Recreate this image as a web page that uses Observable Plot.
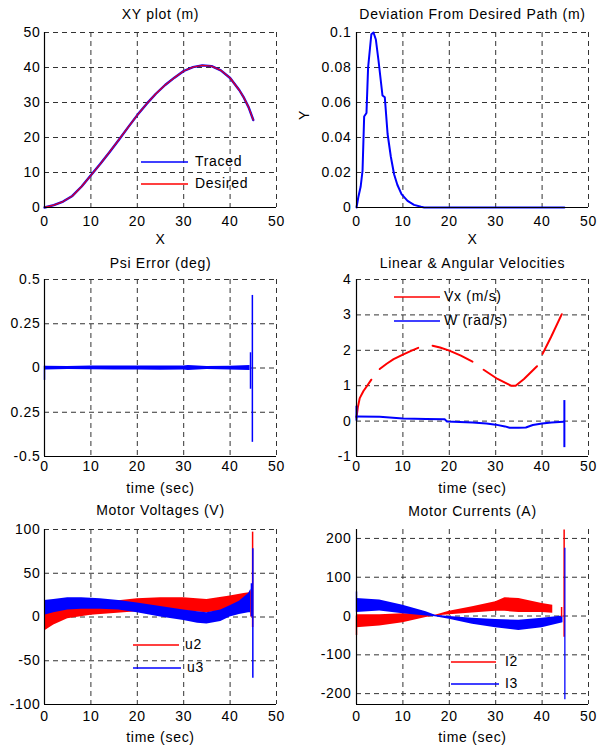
<!DOCTYPE html>
<html><head><meta charset="utf-8">
<script src="https://cdn.jsdelivr.net/npm/d3@7"></script>
<script src="https://cdn.jsdelivr.net/npm/@observablehq/plot@0.6"></script>
<style>
html,body{margin:0;padding:0;background:#fff;overflow:hidden}
#fig{position:relative;width:597px;height:746px;background:#fff;font-family:"Liberation Sans",Arial,sans-serif;color:#000}
#fig svg{position:absolute;overflow:visible}
#fig svg text{letter-spacing:0.7px}
.leg{position:absolute;font-size:14px;letter-spacing:0.7px;line-height:14px;white-space:nowrap}
.legline{position:absolute;height:0}
</style></head><body><div id="fig"></div>
<script>
// ---------- DATA ----------
// Panel 1: XY plot (m)
const tracedX = [0,2,4,6,8,10,12,14,16,18,20,22,24,26,28,30,32,34,36,38,40,42,43,44,45];
const tracedY = [0,0.7,1.7,3.3,6,9.2,12.4,15.8,19.3,22.9,26.4,29.6,32.5,35,37.1,39,40.1,40.6,40.4,39.2,37,33.5,31.3,28.6,25];
const desiredX = [0,2,4,6,8,10,12,14,16,18,20,22,24,26,28,30,32,34,36,38,40,42,43,44,45];
const desiredY = [0,0.7,1.7,3.3,6,9.2,12.4,15.8,19.3,22.9,26.4,29.6,32.5,35,37.1,39,40.1,40.6,40.4,39.2,37,33.5,31.3,28.6,25];
// Panel 2: Deviation from desired path (m)
const devX = [0,0.4,0.9,1.3,1.65,2.15,2.5,3.2,3.66,4.17,4.74,5.6,6.1,6.7,7.4,8.1,8.8,9.7,11,12.4,13.9,14.6,20,30,44.8];
const devY = [0,0.006,0.012,0.021,0.052,0.054,0.08,0.099,0.1,0.096,0.084,0.064,0.063,0.042,0.029,0.019,0.013,0.0076,0.0038,0.0015,0.0004,0,0,0,0];
// Panel 3: Psi error (deg) - band envelope and spikes
const psiT  = [0,0.3,5,10,15,20,25,30,31,35,40,44.3];
const psiHi = [0.012,0.01,0.008,0.011,0.012,0.012,0.012,0.011,0.014,0.008,0.01,0.014];
const psiLo = [-0.014,-0.012,-0.009,-0.01,-0.012,-0.012,-0.013,-0.011,-0.014,-0.009,-0.012,-0.014];
const psiSpikeT  = [0,44.4,44.8];
const psiSpikeLo = [-0.07,-0.12,-0.42];
const psiSpikeHi = [0.01,0.086,0.41];
// Panel 4: Linear & angular velocities
const vxT   = [0,0.3,0.7,1.5,2.3,3.2, 5,6.5,8,10,12,13.3, 16.4,18,20,22.5,25, 27.4,30.4,33.3,34.3,36.1,38.9, 40.1,41.9,44.25];
const vxV   = [0.1,0.4,0.65,0.85,1.0,1.17, 1.47,1.62,1.75,1.88,2.0,2.07, 2.13,2.08,1.99,1.85,1.68, 1.45,1.19,1.0,1.0,1.19,1.55, 1.9,2.37,3.02];
const vxSeg = [1,1,1,1,1,1, 2,2,2,2,2,2, 3,3,3,3,3, 4,4,4,4,4,4, 5,5,5];
const wT = [0,5,10,15,19,19.5,25,28,30,32,33,35,36.5,38,40,42,44.6];
const wV = [0.13,0.12,0.075,0.057,0.05,-0.01,-0.04,-0.07,-0.1,-0.15,-0.19,-0.19,-0.18,-0.11,-0.07,-0.04,-0.02];
const wSpikeT  = [0,44.8];
const wSpikeLo = [0,-0.75];
const wSpikeHi = [0.42,0.58];
// Panel 5: Motor voltages (V)
const u2T  = [0,2,5,10,15,20,25,30,35,40,43,44.5];
const u2Hi = [12,12,12,14,18,21,22,22,20,24,27,28];
const u2Lo = [-16,-9,-2,2,4,6,7,7,5,8,10,8];
const u3T  = [0,2,5,8,12,16,20,25,30,33,35,38,40,42,44,44.5];
const u3Hi = [19,20,22,22,21,19,16,12,8,6,5,8,13,18,27,32];
const u3Lo = [2,5,8,9,9,8,5,0,-4,-7,-8,-5,0,3,5,5];
const u2SpikeT = [44.5,44.85], u2SpikeLo = [0,-12], u2SpikeHi = [30,97];
const u3SpikeT = [44.6,44.9],  u3SpikeLo = [0,-70], u3SpikeHi = [38,78];
// Panel 6: Motor currents (A)
const i2T  = [0,5,10,15,17,20,25,30,32,35,40,42.3];
const i2Hi = [3,3,6,5,2,12,24,37,47,45,32,28];
const i2Lo = [-30,-26,-17,-4,0,3,8,12,12,9,9,7];
const i3T  = [0,5,10,15,17,20,25,30,35,40,44.5];
const i3Hi = [45,41,28,11,2,-1,-6,-9,-11,-6,0];
const i3Lo = [9,13,6,0,-2,-8,-21,-30,-37,-30,-17];
const i2SpikeT = [0,44.2,44.75], i2SpikeLo = [-50,-3,-55], i2SpikeHi = [0,22,222];
const i3SpikeT = [0,44.9], i3SpikeLo = [10,-216], i3SpikeHi = [62,175];
// Ticks
const ticks50 = [0,10,20,30,40,50];
const xyTicksY = [0,10,20,30,40,50];
const devTicksY = [0,0.02,0.04,0.06,0.08,0.1];
const devTickLabels = ["0","0.02","0.04","0.06","0.08","0.1"];
const psiTicksY = [-0.5,-0.25,0,0.25,0.5];
const psiTickLabels = ["-0.5","0.25","0","0.25","0.5"];
const velTicksY = [-1,0,1,2,3,4];
const voltTicksY = [-100,-50,0,50,100];
const currTicksY = [-200,-100,0,100,200];

// ---------- HELPERS ----------
const BLUE = "#0000ff", RED = "#ff0000";
const zip = (t, a, b) => t.map((v, i) => ({t: v, lo: a[i], hi: b[i]}));
const pts = (xs, ys) => xs.map((v, i) => ({x: v, y: ys[i]}));
const fig = document.getElementById("fig");
const ML = 60, MT = 40, MB = 45;

function panel(o) {
  const mr = 9;
  const W = ML + 232 + mr, H = MT + o.h + MB;
  const grid = {stroke: "#333", strokeOpacity: 1, strokeWidth: 1, strokeDasharray: "5,4"};
  const svg = Plot.plot({
    width: W, height: H, marginLeft: ML, marginRight: mr, marginTop: MT, marginBottom: MB,
    style: {fontFamily: '"Liberation Sans", Arial, sans-serif', fontSize: "14px", color: "#000", background: "transparent", overflow: "visible"},
    x: {domain: [0, 50]},
    y: {domain: o.ydom},
    marks: [
      Plot.gridX(ticks50, grid),
      Plot.gridY(o.yticks, grid),
      ...o.marks,
      Plot.ruleX([0], {stroke: "#000", strokeWidth: 1.2}),
      Plot.ruleY([o.ydom[0]], {stroke: "#000", strokeWidth: 1.2}),
      Plot.axisX(ticks50, {tickSize: 0, tickPadding: o.xpad, label: null, fill: "#000"}),
      Plot.axisY(o.yticks, {tickSize: 0, tickPadding: o.ypad, label: null, fill: "#000",
        tickFormat: o.ylabels ? (d => o.ylabels[o.yticks.indexOf(d)]) : (d => String(d))}),
      Plot.text([o.title], {frameAnchor: "top", dy: o.tdy, lineAnchor: "middle", text: d => d, fill: "#000"}),
      Plot.text([o.xlabel], {frameAnchor: "bottom", dy: o.xdy, lineAnchor: "middle", text: d => d, fill: "#000"}),
      ...(o.ylabel ? [Plot.text([o.ylabel], {frameAnchor: "left", dx: o.ydx, rotate: -90, lineAnchor: "middle", text: d => d, fill: "#000"})] : [])
    ]
  });
  svg.style.left = (o.left - ML) + "px";
  svg.style.top = (o.top - MT) + "px";
  fig.appendChild(svg);
}

function legend(x1, x2, y, color, tx, label) {
  const l = document.createElement("div");
  l.className = "legline";
  l.style.cssText = `left:${x1}px;top:${y - 1}px;width:${x2 - x1}px;border-top:2px solid ${color};opacity:0.75`;
  fig.appendChild(l);
  const t = document.createElement("div");
  t.className = "leg";
  t.style.left = tx + "px";
  t.style.top = (y - 8) + "px";
  t.textContent = label;
  fig.appendChild(t);
}

// ---------- PANELS ----------
panel({left: 44, top: 32, h: 175, ydom: [0, 50], yticks: xyTicksY, xpad: 9, ypad: 4, tdy: -18, xdy: 32,
  title: "XY plot (m)", xlabel: "X",
  marks: [
    Plot.line(pts(tracedX, tracedY), {x: "x", y: "y", stroke: BLUE, strokeWidth: 2.4}),
    Plot.line(pts(desiredX, desiredY), {x: "x", y: "y", stroke: RED, strokeWidth: 1.3, strokeOpacity: 0.85})
  ]});

panel({left: 356, top: 32, h: 175, ydom: [0, 0.1], yticks: devTicksY, ylabels: devTickLabels, xpad: 9, ypad: 5, tdy: -18, xdy: 32,
  title: "Deviation From Desired Path (m)", xlabel: "X", ylabel: "Y", ydx: -52,
  marks: [
    Plot.line(pts(devX, devY), {x: "x", y: "y", stroke: BLUE, strokeWidth: 2, curve: "linear"})
  ]});

panel({left: 44, top: 279, h: 177, ydom: [-0.5, 0.5], yticks: psiTicksY, ylabels: psiTickLabels, xpad: 5, ypad: 4, tdy: -16, xdy: 32,
  title: "Psi Error (deg)", xlabel: "time (sec)",
  marks: [
    Plot.areaY(zip(psiT, psiLo, psiHi), {x: "t", y1: "lo", y2: "hi", fill: BLUE}),
    Plot.ruleX(zip(psiSpikeT, psiSpikeLo, psiSpikeHi), {x: "t", y1: "lo", y2: "hi", stroke: BLUE, strokeWidth: 1.5})
  ]});

panel({left: 356, top: 279, h: 177, ydom: [-1, 4], yticks: velTicksY, xpad: 5, ypad: 5, tdy: -16, xdy: 32,
  title: "Linear & Angular Velocities", xlabel: "time (sec)",
  marks: [
    Plot.line(vxT.map((t, i) => ({t, v: vxV[i], s: vxSeg[i]})), {x: "t", y: "v", z: "s", stroke: RED, strokeWidth: 2}),
    Plot.line(pts(wT, wV), {x: "x", y: "y", stroke: BLUE, strokeWidth: 2}),
    Plot.ruleX(zip(wSpikeT, wSpikeLo, wSpikeHi), {x: "t", y1: "lo", y2: "hi", stroke: BLUE, strokeWidth: 2})
  ]});

panel({left: 44, top: 529, h: 175, ydom: [-100, 100], yticks: voltTicksY, xpad: 7, ypad: 4, tdy: -19, xdy: 33,
  title: "Motor Voltages (V)", xlabel: "time (sec)",
  marks: [
    Plot.areaY(zip(u2T, u2Lo, u2Hi), {x: "t", y1: "lo", y2: "hi", fill: RED}),
    Plot.areaY(zip(u3T, u3Lo, u3Hi), {x: "t", y1: "lo", y2: "hi", fill: BLUE}),
    Plot.ruleX(zip(u2SpikeT, u2SpikeLo, u2SpikeHi), {x: "t", y1: "lo", y2: "hi", stroke: RED, strokeWidth: 1.5}),
    Plot.ruleX(zip(u3SpikeT, u3SpikeLo, u3SpikeHi), {x: "t", y1: "lo", y2: "hi", stroke: BLUE, strokeWidth: 1.5})
  ]});

panel({left: 356, top: 529, h: 175, ydom: [-228, 223], yticks: currTicksY, xpad: 7, ypad: 5, tdy: -18, xdy: 33,
  title: "Motor Currents (A)", xlabel: "time (sec)",
  marks: [
    Plot.areaY(zip(i2T, i2Lo, i2Hi), {x: "t", y1: "lo", y2: "hi", fill: RED}),
    Plot.areaY(zip(i3T, i3Lo, i3Hi), {x: "t", y1: "lo", y2: "hi", fill: BLUE}),
    Plot.ruleX(zip(i2SpikeT, i2SpikeLo, i2SpikeHi), {x: "t", y1: "lo", y2: "hi", stroke: RED, strokeWidth: 1.5}),
    Plot.ruleX(zip(i3SpikeT, i3SpikeLo, i3SpikeHi), {x: "t", y1: "lo", y2: "hi", stroke: BLUE, strokeWidth: 1.5, strokeOpacity: 0.85})
  ]});

// ---------- LEGENDS ----------
legend(141, 188, 162, BLUE, 195, "Traced");
legend(141, 188, 184, RED, 195, "Desired");
legend(394, 440, 297, RED, 444, "Vx  (m/s)");
legend(394, 440, 321, BLUE, 444, "W  (rad/s)");
legend(133, 179, 645, RED, 185, "u2");
legend(133, 181, 668, BLUE, 187, "u3");
legend(451, 496, 662, RED, 505, "I2");
legend(451, 499, 684, BLUE, 505, "I3");
</script></body></html>
